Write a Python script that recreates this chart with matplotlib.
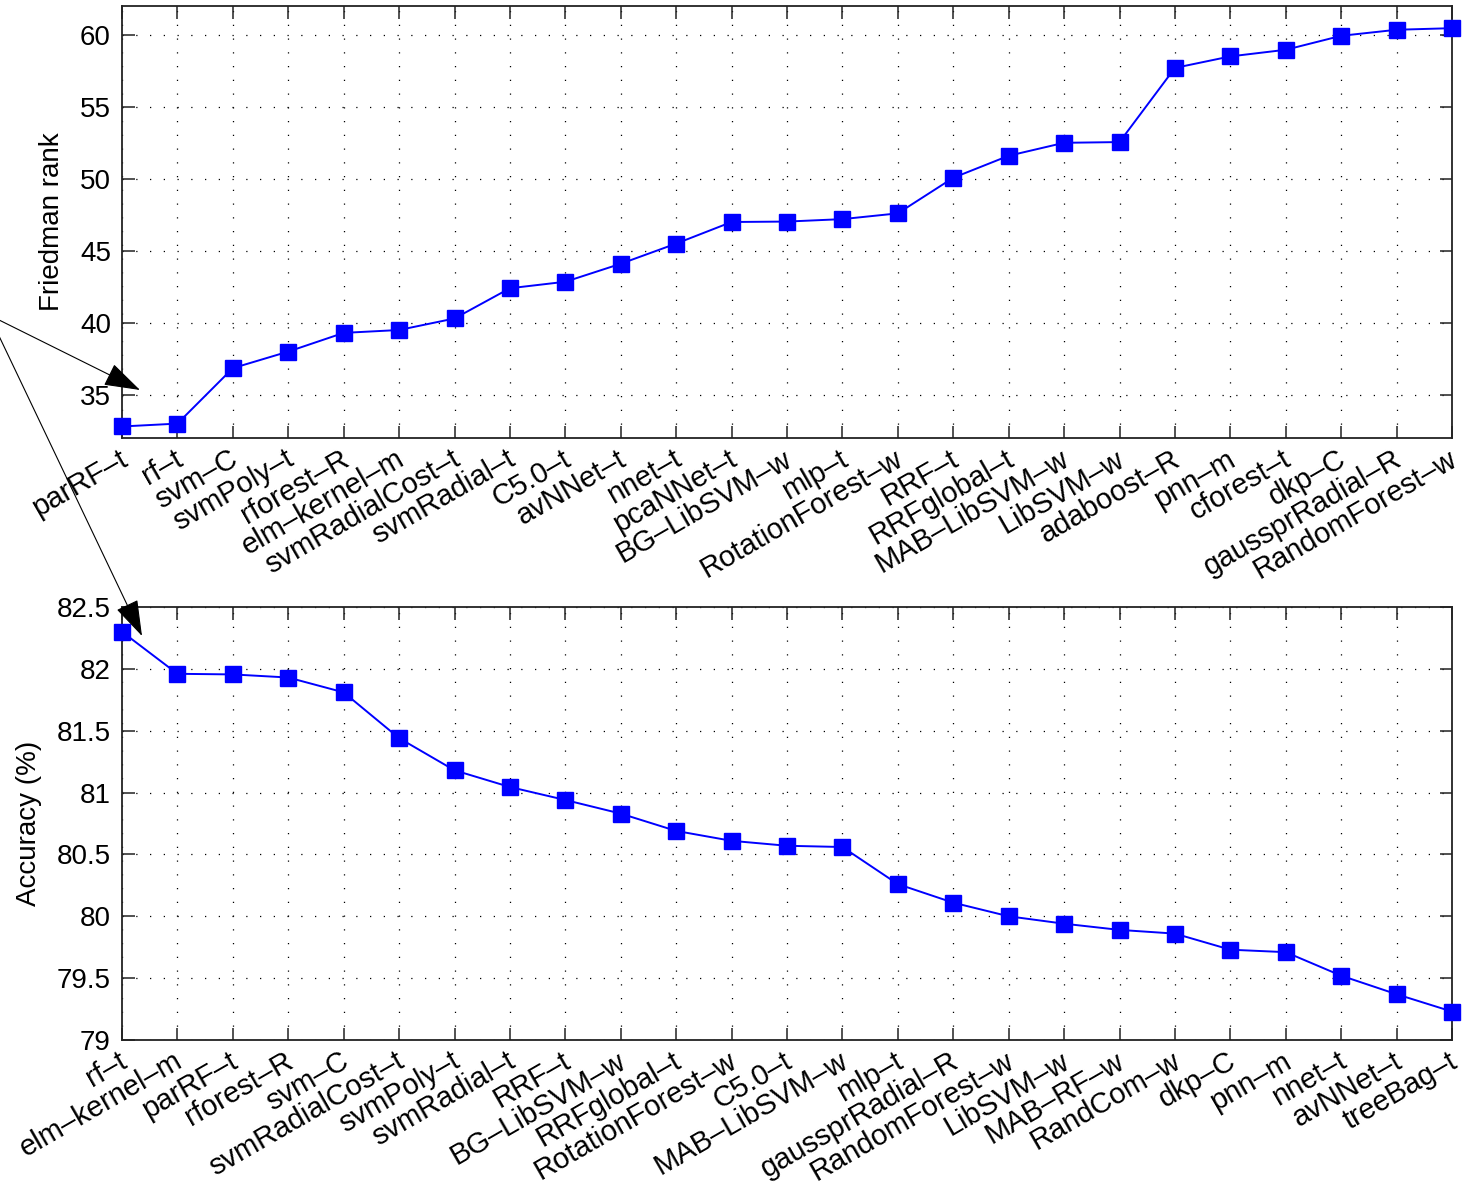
import matplotlib
matplotlib.use("Agg")
import matplotlib.pyplot as plt
from matplotlib.patches import FancyArrowPatch
from matplotlib.ticker import FuncFormatter
from matplotlib.transforms import ScaledTranslation

plt.rcParams['font.family'] = ['Liberation Sans', 'DejaVu Sans']

# ---- data ----
rank_methods = ["parRF–t", "rf–t", "svm–C", "svmPoly–t", "rforest–R", "elm–kernel–m",
                "svmRadialCost–t", "svmRadial–t", "C5.0–t", "avNNet–t", "nnet–t",
                "pcaNNet–t", "BG–LibSVM–w", "mlp–t", "RotationForest–w", "RRF–t",
                "RRFglobal–t", "MAB–LibSVM–w", "LibSVM–w", "adaboost–R", "pnn–m",
                "cforest–t", "dkp–C", "gaussprRadial–R", "RandomForest–w"]
rank_values = [32.8, 33.0, 36.85, 38.0, 39.3, 39.5, 40.3, 42.4, 42.85, 44.1, 45.5,
               47.0, 47.03, 47.2, 47.6, 50.07, 51.6, 52.5, 52.55, 57.7, 58.5,
               58.96, 59.93, 60.35, 60.46]

acc_methods = ["rf–t", "elm–kernel–m", "parRF–t", "rforest–R", "svm–C", "svmRadialCost–t",
               "svmPoly–t", "svmRadial–t", "RRF–t", "BG–LibSVM–w", "RRFglobal–t",
               "RotationForest–w", "C5.0–t", "MAB–LibSVM–w", "mlp–t", "gaussprRadial–R",
               "RandomForest–w", "LibSVM–w", "MAB–RF–w", "RandCom–w", "dkp–C", "pnn–m",
               "nnet–t", "avNNet–t", "treeBag–t"]
acc_values = [82.30, 81.96, 81.955, 81.93, 81.81, 81.44, 81.18, 81.045, 80.94, 80.83,
              80.69, 80.61, 80.57, 80.56, 80.26, 80.11, 80.0, 79.94, 79.89, 79.86,
              79.73, 79.71, 79.52, 79.37, 79.23]

rank_ticks = [35, 40, 45, 50, 55, 60]
acc_ticks = [79, 79.5, 80, 80.5, 81, 81.5, 82, 82.5]

W, H = 1473, 1189
fig = plt.figure(figsize=(W / 100, H / 100), dpi=100)

def px_axes(l, t, r, b):
    return fig.add_axes([l / W, 1 - b / H, (r - l) / W, (b - t) / H])

ax1 = px_axes(122, 6, 1452, 438)
ax2 = px_axes(122, 607, 1452, 1040)

FS = 20
blue = (0, 0, 1)

def style(ax, names, values, ylim, yticks, ylabel, labelx):
    x = list(range(1, len(values) + 1))
    ax.plot(x, values, color=blue, lw=1.4, marker='s', markersize=11,
            markerfacecolor=blue, markeredgecolor=blue, zorder=3, clip_on=False)
    ax.set_xlim(1, len(values))
    ax.set_ylim(*ylim)
    ax.set_xticks(x)
    ax.set_xticklabels(names, rotation=30, ha='right', va='top', fontsize=21)
    ax.set_yticks(yticks)
    ax.yaxis.set_major_formatter(FuncFormatter(lambda v, p: f"{v:g}"))
    ax.tick_params(axis='both', direction='in', length=9, width=1.1,
                   top=True, right=True, labelsize=FS, color='#222222')
    ax.tick_params(axis='x', labelsize=21)
    ax.tick_params(axis='y', pad=8)
    ax.tick_params(axis='x', pad=5)
    ax.grid(True, color='k', linestyle=(0, (1, 10)), lw=0.9)
    ax.set_axisbelow(True)
    for s in ax.spines.values():
        s.set_linewidth(1.3)
        s.set_color('#222222')
    ax.set_ylabel(ylabel, fontsize=FS)
    ax.yaxis.set_label_coords(labelx, 0.5)
    off = ScaledTranslation(10 / 100, 0, fig.dpi_scale_trans)
    for lab in ax.get_xticklabels():
        lab.set_transform(lab.get_transform() + off)

style(ax1, rank_methods, rank_values, (32, 62), rank_ticks, "Friedman rank", -0.043)
style(ax2, acc_methods, acc_values, (79, 82.5), acc_ticks, "Accuracy (%)", -0.060)

# ---- arrows from off-figure origin ----
origin = (-11, 315)
tips = [(140, 390), (142, 636)]
for tx, ty in tips:
    arr = FancyArrowPatch((origin[0] / W, 1 - origin[1] / H), (tx / W, 1 - ty / H),
                          transform=fig.transFigure,
                          arrowstyle='-|>,head_length=2.3,head_width=0.75',
                          mutation_scale=10, lw=0.8, color='k',
                          shrinkA=0, shrinkB=0, clip_on=False)
    fig.add_artist(arr)

fig.savefig("out.png", dpi=100)
